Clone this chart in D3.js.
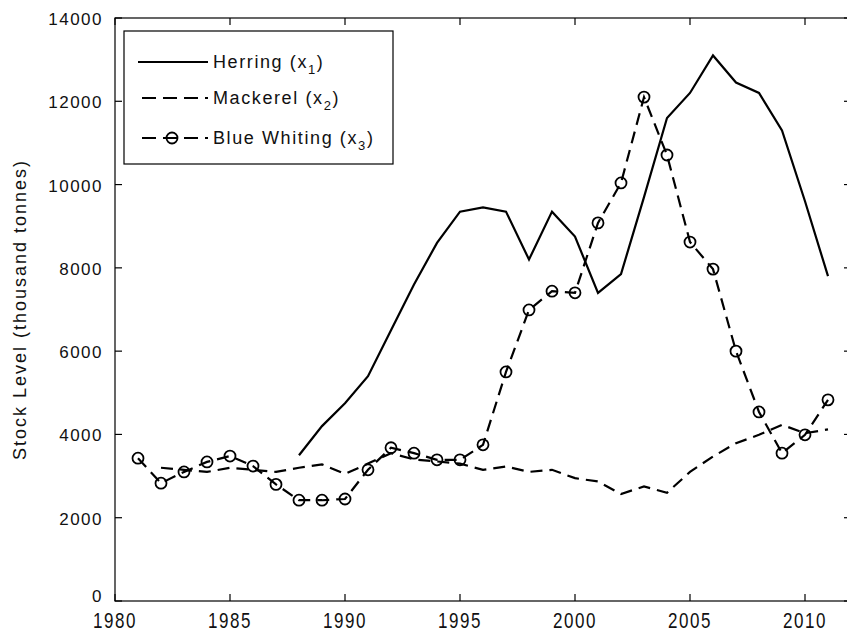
<!DOCTYPE html>
<html>
<head>
<meta charset="utf-8">
<script src="https://cdnjs.cloudflare.com/ajax/libs/d3/7.8.5/d3.min.js"></script>
<style>
  body { margin: 0; background: #fff; }
  svg { display: block; }
  text { font-family: "Liberation Sans", Arial, sans-serif; fill: #111; }
</style>
</head>
<body>
<svg width="847" height="635"></svg>
<script>
//////////////////     DATA
const herringYears = d3.range(1988, 2012);
const herringValues = [3500, 4200, 4750, 5400, 6500, 7600, 8600, 9350, 9450, 9350, 8200, 9350,
  8750, 7400, 7850, 9700, 11600, 12200, 13100, 12450, 12200, 11300, 9600, 7800];

const mackerelYears = d3.range(1982, 2012);
const mackerelValues = [3200, 3150, 3100, 3200, 3150, 3100, 3200, 3280, 3050, 3300, 3550, 3400,
  3350, 3300, 3150, 3230, 3100, 3150, 2950, 2870, 2570, 2750, 2600, 3100, 3470, 3790, 3990,
  4230, 4030, 4120];

const whitingYears = d3.range(1981, 2012);
const whitingValues = [3430, 2830, 3100, 3340, 3480, 3240, 2800, 2420, 2420, 2450, 3150, 3680,
  3550, 3390, 3390, 3750, 5500, 6990, 7440, 7400, 9080, 10040, 12100, 10710, 8620, 7970, 6000,
  4540, 3550, 3990, 4830];

const xTicks = [1980, 1985, 1990, 1995, 2000, 2005, 2010];
const yTicks = [0, 2000, 4000, 6000, 8000, 10000, 12000, 14000];
const seriesNames = ["Herring", "Mackerel", "Blue Whiting"];
const seriesSubs = ["1", "2", "3"];
//////////////////////////////////////////////////

const svg = d3.select("svg");
const margin = { left: 115, top: 18 };
const innerW = 736, innerH = 583;   // right edge falls just past the window, like the source

const xScale = d3.scaleLinear().domain([1980, 2012]).range([margin.left, margin.left + innerW]);
const yScale = d3.scaleLinear().domain([0, 14000]).range([margin.top + innerH, margin.top]);

const zip = (xs, vs) => xs.map((x, i) => ({ x, v: vs[i] }));
const series = [
  { name: seriesNames[0], data: zip(herringYears, herringValues), dash: null, marker: false },
  { name: seriesNames[1], data: zip(mackerelYears, mackerelValues), dash: "12,7", marker: false },
  { name: seriesNames[2], data: zip(whitingYears, whitingValues), dash: "12,7", marker: true }
];

const lineGen = d3.line().x(d => xScale(d.x)).y(d => yScale(d.v));

///////////////////////// AXES (matlab style box, ticks inward)
const tickLen = 7;
const axisG = svg.append("g");

axisG.append("rect")
  .attr("x", xScale(1980)).attr("y", yScale(14000))
  .attr("width", innerW).attr("height", innerH)
  .attr("fill", "none").attr("stroke", "#000").attr("stroke-width", 1.2);

xTicks.forEach(t => {
  axisG.append("line")
    .attr("x1", xScale(t)).attr("x2", xScale(t))
    .attr("y1", yScale(0)).attr("y2", yScale(0) - tickLen)
    .attr("stroke", "#000").attr("stroke-width", 1.2);
  axisG.append("line")
    .attr("x1", xScale(t)).attr("x2", xScale(t))
    .attr("y1", yScale(14000)).attr("y2", yScale(14000) + tickLen)
    .attr("stroke", "#000").attr("stroke-width", 1.2);
  // x labels look vertically stretched in the source
  axisG.append("text")
    .attr("transform", `translate(${xScale(t)},${yScale(0) + 27}) scale(1,1.35)`)
    .attr("text-anchor", "middle")
    .style("font-size", "17px")
    .style("letter-spacing", "1.5px")
    .text(t);
});

yTicks.forEach(t => {
  axisG.append("line")
    .attr("x1", xScale(1980)).attr("x2", xScale(1980) + tickLen)
    .attr("y1", yScale(t)).attr("y2", yScale(t))
    .attr("stroke", "#000").attr("stroke-width", 1.2);
  axisG.append("line")
    .attr("x1", xScale(2012)).attr("x2", xScale(2012) - tickLen)
    .attr("y1", yScale(t)).attr("y2", yScale(t))
    .attr("stroke", "#000").attr("stroke-width", 1.2);
  // the 0 label sits raised so it clears the year labels
  axisG.append("text")
    .attr("x", xScale(1980) - 12)
    .attr("y", yScale(t) + (t === 0 ? 1 : 7))
    .attr("text-anchor", "end")
    .style("font-size", "17px")
    .style("letter-spacing", "1.5px")
    .text(t);
});

svg.append("text")
  .attr("transform", `translate(26,${margin.top + innerH / 2}) rotate(-90)`)
  .attr("text-anchor", "middle")
  .style("font-size", "18px")
  .style("letter-spacing", "2px")
  .text("Stock Level (thousand tonnes)");

///////////////////////// LINES
const plotG = svg.append("g");

series.forEach(s => {
  plotG.append("path")
    .datum(s.data)
    .attr("d", lineGen)
    .attr("fill", "none")
    .attr("stroke", "#000")
    .attr("stroke-width", 2.2)
    .attr("stroke-dasharray", s.dash);
  if (s.marker) {
    plotG.selectAll(".marker")
      .data(s.data)
      .enter().append("circle")
      .attr("class", "marker")
      .attr("cx", d => xScale(d.x))
      .attr("cy", d => yScale(d.v))
      .attr("r", 5.5)
      .attr("fill", "none")
      .attr("stroke", "#000")
      .attr("stroke-width", 1.8);
  }
});

///////////////////////// LEGEND
const legendG = svg.append("g").attr("transform", "translate(124,31)");
legendG.append("rect")
  .attr("width", 269).attr("height", 133)
  .attr("fill", "#fff").attr("stroke", "#000").attr("stroke-width", 1.2);

const rowY = [31, 67, 107];
series.forEach((s, i) => {
  const row = legendG.append("g").attr("transform", `translate(0,${rowY[i]})`);
  row.append("line")
    .attr("x1", 14).attr("x2", 84)
    .attr("stroke", "#000").attr("stroke-width", 2.2)
    .attr("stroke-dasharray", s.dash ? "14,7" : null)
    .attr("stroke-dashoffset", s.dash ? -4 : null);
  if (s.marker) {
    row.append("circle")
      .attr("cx", 48).attr("r", 5.5)
      .attr("fill", "none").attr("stroke", "#000").attr("stroke-width", 1.8);
  }
  const label = row.append("text")
    .attr("x", 89).attr("y", 6)
    .style("font-size", "18px")
    .style("letter-spacing", "1.6px");
  label.append("tspan").text(`${s.name} (x`);
  label.append("tspan").attr("dy", 6).style("font-size", "13px").text(seriesSubs[i]);
  label.append("tspan").attr("dy", -6).text(")");
});
</script>
</body>
</html>
